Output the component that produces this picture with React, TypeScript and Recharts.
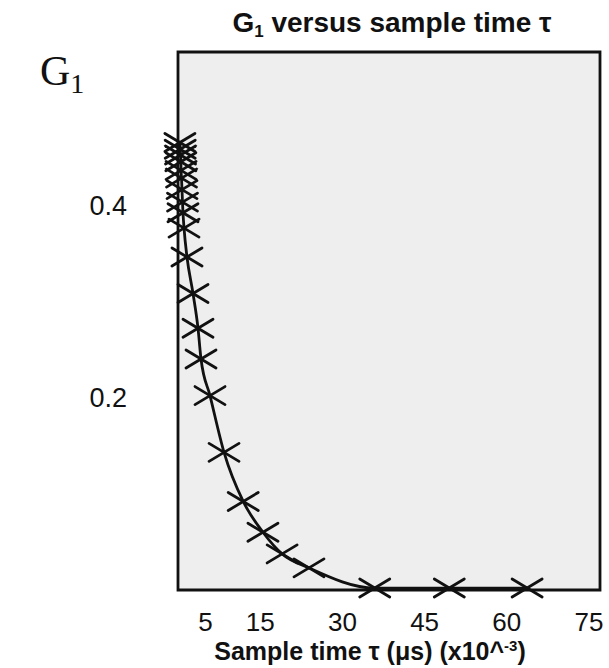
import { ComposedChart, Line, XAxis, YAxis, ReferenceArea, Label } from 'recharts';

// sample time tau (x10^-3 us) and G1
const tau = [0.35, 0.4, 0.46, 0.52, 0.56, 0.64, 0.73, 0.82, 0.91, 1.1, 1.64, 2.74, 3.65, 4.2, 5.84, 8.4, 11.9, 15.5, 19.0, 23.9, 35.9, 49.5, 63.7];
const g1 = [0.465, 0.458, 0.452, 0.445, 0.436, 0.428, 0.416, 0.403, 0.392, 0.376, 0.346, 0.308, 0.272, 0.24, 0.202, 0.143, 0.092, 0.06, 0.0375, 0.023, 0.002, 0.002, 0.002];

const xTicks = [5, 15, 30, 45, 60, 75];
const yTicks = [0.2, 0.4];

const data = tau.map((t, i) => ({ t, g: g1[i] }));

const font = 'Arial, "Liberation Sans", Helvetica, sans-serif';

const Cross = (props: any) => {
  const { cx, cy, index } = props;
  if (cx == null || cy == null) return null;
  return (
    <g key={`c-${index}`} stroke="#111" strokeWidth={2.8} strokeLinecap="round">
      <line x1={cx - 15} y1={cy - 9} x2={cx + 15} y2={cy + 9} />
      <line x1={cx - 15} y1={cy + 9} x2={cx + 15} y2={cy - 9} />
    </g>
  );
};

const XTitle = (props: any) => {
  const vb = props.viewBox || {};
  const cx = (vb.x || 0) + (vb.width || 0) / 2 - 19;
  return (
    <text x={cx} y={660} textAnchor="middle" fontFamily={font} fontWeight="bold" fontSize={25} fill="#111">
      Sample time τ (μs) (x10^<tspan dy={-9} fontSize={15}>-3</tspan>
      <tspan dy={9}>)</tspan>
    </text>
  );
};

export default function App() {
  return (
    <div style={{ position: 'absolute', left: 0, top: 0, width: 609, height: 668, background: '#fff' }}>
      <ComposedChart width={609} height={668} data={data} margin={{ top: 52, right: 9, left: 0, bottom: 0 }}>
        <ReferenceArea x1={0} x2={77} y1={0} y2={0.559} fill="#eeeeee" fillOpacity={1} stroke="#111" strokeWidth={2.8} ifOverflow="visible" />
        <XAxis
          type="number"
          dataKey="t"
          domain={[0, 77]}
          ticks={xTicks}
          height={78}
          axisLine={false}
          tickLine={false}
          tickSize={0}
          tickMargin={23}
          tick={{ fontFamily: font, fontSize: 26, fill: '#111' }}
          interval={0}
        >
          <Label content={XTitle} />
        </XAxis>
        <YAxis
          type="number"
          domain={[0, 0.559]}
          ticks={yTicks}
          width={178}
          axisLine={false}
          tickLine={false}
          tickSize={0}
          tickMargin={51}
          tick={{ fontFamily: font, fontSize: 27, fill: '#111' }}
        />
        <Line
          type="monotone"
          dataKey="g"
          stroke="#111"
          strokeWidth={2.8}
          dot={Cross}
          activeDot={false}
          isAnimationActive={false}
        />
      </ComposedChart>
      <svg width={609} height={100} style={{ position: 'absolute', left: 0, top: 0 }}>
        <text x={392} y={32} textAnchor="middle" fontFamily={font} fontWeight="bold" fontSize={28} fill="#111">
          G<tspan fontSize={17} dy={5}>1</tspan>
          <tspan dy={-5}> versus sample time τ</tspan>
        </text>
        <text x={40} y={85} fontFamily='"Liberation Serif", "DejaVu Serif", serif' fontSize={42} fill="#111">
          G<tspan fontSize={28} dy={8}>1</tspan>
        </text>
      </svg>
    </div>
  );
}
